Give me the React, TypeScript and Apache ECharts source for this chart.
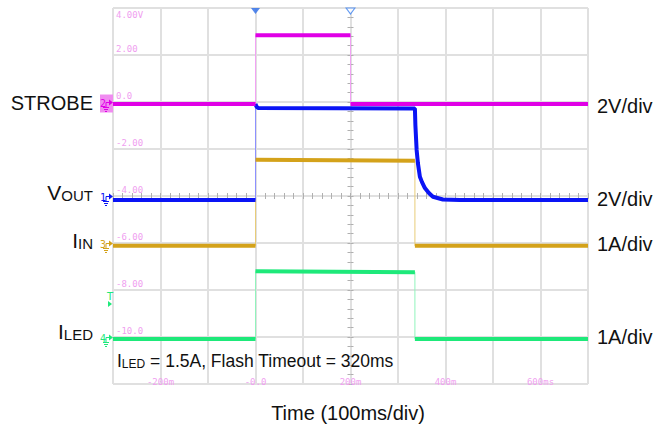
import React, { useEffect, useRef } from 'react';
import * as echarts from 'echarts';

// ---- axis configuration (divisions / tick labels) ----
const timeMin = -300;
const timeMax = 700;
const timeStep = 100;
const xLabelValues = [-200, 0, 200, 400, 600];
const xLabelTexts = ['-200m', '-0.0', '200m', '400m', '600ms'];
const yLabelValues = [4, 2, 0, -2, -4, -6, -8, -10];
const yLabelTexts = ['4.00V', '2.00', '0.0', '-2.00', '-4.00', '-6.00', '-8.00', '-10.0'];

// channel scales: STROBE (2V/div), VOUT (2V/div), IIN (1A/div), ILED (1A/div)
const channelNames = ['STROBE', 'VOUT', 'IIN', 'ILED'];
const channelMin = [-12, -8, -3, -1];
const channelMax = [4, 8, 5, 7];
const channelScaleText = ['2V/div', '2V/div', '1A/div', '1A/div'];
const channelDigit = ['2', '1', '3', '4'];

// ---- waveforms (time in ms) ----
const strobeTime = [-300, 0, 0, 200, 200, 700];
const strobeVolt = [-0.08, -0.08, 2.84, 2.84, -0.08, -0.08];

const voutTime = [-300, 0, 0, 2, 6, 335.6, 336.6, 339.2, 341.9, 346.1, 350.3, 356.6, 365, 373.5, 394.6, 430, 700];
const voutVolt = [-0.17, -0.17, 3.92, 3.8, 3.74, 3.72, 3.02, 1.96, 1.4, 0.82, 0.6, 0.34, 0.13, -0.03, -0.15, -0.17, -0.17];

const iinTime = [-300, 0, 0, 335.6, 335.6, 700];
const iinAmp = [-0.06, -0.06, 1.77, 1.75, -0.06, -0.06];

const iledTime = [-300, 0, 0, 335.6, 335.6, 700];
const iledAmp = [-0.04, -0.04, 1.4, 1.38, -0.04, -0.04];

const trigLevelA = 0.7;
const markerTimes = [0, 200];

const annotation = { sub: 'LED', rest: ' = 1.5A, Flash Timeout = 320ms' };
const xTitle = 'Time (100ms/div)';

const traceColors = ['#E000E6', '#0A14F5', '#D4A21A', '#1EE97A'];
const edgeColors = ['#F2A2F4', '#8C90FF', '#E8CC78', '#90F4BC'];
const traceWidths = [4, 4, 4, 4];

const pinkLabel = '#F0A0F0';
const FONT = '"Liberation Sans", Arial, sans-serif';
const MONO = '"DejaVu Sans Mono", monospace';

function stepData(t: number[], v: number[]) {
  return t.map((x, i) => [x, v[i]]);
}
function thickData(t: number[], v: number[]) {
  const out: any[] = [];
  for (let i = 0; i < t.length; i++) {
    if (i > 0 && t[i] === t[i - 1]) out.push([t[i], '-']);
    out.push([t[i], v[i]]);
  }
  return out;
}

export default function App() {
  const ref = useRef<HTMLDivElement>(null);
  useEffect(() => {
    if (!ref.current) return;
    const chart = echarts.init(ref.current, null, { renderer: 'svg' });
    const waves = [
      [strobeTime, strobeVolt],
      [voutTime, voutVolt],
      [iinTime, iinAmp],
      [iledTime, iledAmp],
    ];
    const drawOrder = [3, 2, 1, 0];
    const series: any[] = [];
    drawOrder.forEach((k) => {
      series.push({
        type: 'line', xAxisIndex: 0, yAxisIndex: k, silent: true, symbol: 'none',
        data: stepData(waves[k][0], waves[k][1]),
        lineStyle: { width: 1, color: edgeColors[k] }, z: 2,
      });
    });
    drawOrder.forEach((k, j) => {
      series.push({
        type: 'line', xAxisIndex: 0, yAxisIndex: k, silent: true, symbol: 'none',
        data: thickData(waves[k][0], waves[k][1]),
        connectNulls: false,
        lineStyle: { width: traceWidths[k], color: traceColors[k] }, z: 3 + j,
      });
    });
    series.push({
      type: 'scatter', xAxisIndex: 0, yAxisIndex: 0, silent: true, clip: false,
      data: [[markerTimes[0], channelMax[0]]],
      symbol: 'triangle', symbolRotate: 180, symbolSize: [9, 6], symbolOffset: [0, 3],
      itemStyle: { color: '#2A6CE8' }, z: 10,
    });
    series.push({
      type: 'scatter', xAxisIndex: 0, yAxisIndex: 0, silent: true, clip: false,
      data: [[markerTimes[1], channelMax[0]]],
      symbol: 'triangle', symbolRotate: 180, symbolSize: [9, 6], symbolOffset: [0, 3],
      itemStyle: { color: '#ffffff', borderColor: '#3C82F0', borderWidth: 1 }, z: 10,
    });

    const tickAxisBase = (inside: boolean) => ({
      type: 'value', min: -5, max: 5, interval: 1,
      axisLine: { show: false, onZero: true, onZeroAxisIndex: 4 },
      axisTick: { show: true, inside, length: 3, lineStyle: { color: '#b0b0b0' } },
      minorTick: { show: true, splitNumber: 5, length: 3, lineStyle: { color: '#b0b0b0' } },
      axisLabel: { show: false }, splitLine: { show: false },
    });
    const yTickAxisBase = (inside: boolean) => ({
      type: 'value', min: -4, max: 4, interval: 1,
      axisLine: { show: false, onZero: true, onZeroAxisIndex: 1 },
      axisTick: { show: true, inside, length: 3, lineStyle: { color: '#b0b0b0' } },
      minorTick: { show: true, splitNumber: 5, length: 3, lineStyle: { color: '#b0b0b0' } },
      axisLabel: { show: false }, splitLine: { show: false },
    });

    const option: any = {
      animation: false,
      backgroundColor: '#ffffff',
      grid: {
        left: 113, right: 72, top: 8, bottom: 48,
        show: true, borderColor: '#4a4a4a', borderWidth: 1, backgroundColor: '#ffffff',
        outerBoundsMode: 'none',
      },
      xAxis: [
        {
          type: 'value', min: timeMin, max: timeMax, interval: timeStep,
          axisLine: { show: false, onZero: false },
          axisTick: { show: false },
          splitLine: { show: true, lineStyle: { color: '#e0e0e0', width: 2 } },
          axisLabel: {
            inside: true, margin: -2, color: pinkLabel, fontFamily: MONO, fontSize: 9,
            formatter: (v: number) => {
              const i = xLabelValues.indexOf(v);
              return i < 0 ? '' : xLabelTexts[i];
            },
          },
        },
        tickAxisBase(false),
        tickAxisBase(true),
      ],
      yAxis: [
        {
          type: 'value', min: channelMin[0], max: channelMax[0], interval: 2,
          axisLine: { show: false, onZero: false },
          axisTick: { show: false },
          splitLine: { show: true, lineStyle: { color: '#e0e0e0', width: 2 } },
          axisLabel: {
            inside: true, margin: 3, color: pinkLabel, fontFamily: MONO, fontSize: 9,
            formatter: (v: number) => {
              const i = yLabelValues.indexOf(v);
              if (i < 0) return '';
              return i === 0 ? `{t|${yLabelTexts[i]}}` : `{b|${yLabelTexts[i]}}`;
            },
            rich: {
              t: { color: pinkLabel, fontFamily: MONO, fontSize: 9, padding: [13, 0, 0, 0] },
              b: { color: pinkLabel, fontFamily: MONO, fontSize: 9, padding: [0, 0, 13, 0] },
            },
          },
        },
        ...[1, 2, 3].map((k) => ({
          type: 'value', min: channelMin[k], max: channelMax[k], show: false,
          axisLine: { show: false, onZero: false }, splitLine: { show: false },
        })),
        yTickAxisBase(false),
        yTickAxisBase(true),
      ],
      series,
    };
    chart.setOption(option);

    const yOf = (axis: number, val: number) => chart.convertToPixel({ yAxisIndex: axis } as any, val) as number;

    const graphics: any[] = [];
    // channel ground markers
    for (let k = 0; k < 4; k++) {
      const y0 = Math.round(yOf(k, 0)) + 0.5;
      const c = traceColors[k];
      if (k === 0) {
        graphics.push({ type: 'rect', shape: { x: 100, y: y0 - 8, width: 13, height: 18 }, style: { fill: '#F08CF0' }, z: 20 });
      }
      graphics.push({ type: 'text', x: 103, y: y0 + 1, style: { text: channelDigit[k], fill: c, font: `10px ${MONO}`, align: 'center', verticalAlign: 'middle' }, z: 21 });
      graphics.push({ type: 'polyline', shape: { points: [[106, y0 + 5], [106, y0], [109, y0]] }, style: { stroke: c, lineWidth: 1, fill: 'none' }, z: 21 });
      graphics.push({ type: 'polygon', shape: { points: [[109, y0 - 3], [113, y0], [109, y0 + 3]] }, style: { fill: c }, z: 21 });
      graphics.push({ type: 'line', shape: { x1: 103, y1: y0 + 5, x2: 109, y2: y0 + 5 }, style: { stroke: c, lineWidth: 1 }, z: 21 });
      graphics.push({ type: 'line', shape: { x1: 104, y1: y0 + 7, x2: 108, y2: y0 + 7 }, style: { stroke: c, lineWidth: 1 }, z: 21 });
      graphics.push({ type: 'line', shape: { x1: 105, y1: y0 + 9, x2: 107, y2: y0 + 9 }, style: { stroke: c, lineWidth: 1 }, z: 21 });
    }
    // trigger level marker
    const yT = yOf(3, trigLevelA);
    graphics.push({ type: 'text', x: 110, y: yT - 8, style: { text: 'T', fill: traceColors[3], font: `11px ${MONO}`, align: 'center', verticalAlign: 'middle' }, z: 21 });
    graphics.push({ type: 'polygon', shape: { points: [[108, yT - 3], [112, yT], [108, yT + 3]] }, style: { fill: traceColors[3] }, z: 21 });

    // left channel labels
    const yS = yOf(0, 0);
    graphics.push({ type: 'text', x: 93, y: yS + 1, style: { text: 'STROBE', fill: '#111', font: `20px ${FONT}`, align: 'right', verticalAlign: 'middle' } });
    const subLabel = (main: string, sub: string, yBase: number) => ({
      type: 'text', x: 93, y: yBase,
      style: {
        text: `{m|${main}}{s|${sub}}`, align: 'right', verticalAlign: 'bottom', fill: '#111',
        rich: {
          m: { fontSize: 21, fontFamily: FONT, lineHeight: 21, verticalAlign: 'bottom', fill: '#111' },
          s: { fontSize: 15, fontFamily: FONT, lineHeight: 15, verticalAlign: 'bottom', fill: '#111' },
        },
      },
    });
    graphics.push(subLabel('V', 'OUT', yOf(1, 0) + 7));
    graphics.push(subLabel('I', 'IN', yOf(2, 0) + 8));
    graphics.push(subLabel('I', 'LED', yOf(3, 0) + 5));

    // right scale labels
    const rightY = [yOf(0, 0) + 4, yOf(1, 0) + 3, yOf(2, 0) + 1, yOf(3, 0) + 0];
    for (let k = 0; k < 4; k++) {
      graphics.push({ type: 'text', x: 597, y: rightY[k], style: { text: channelScaleText[k], fill: '#111', font: `20px ${FONT}`, align: 'left', verticalAlign: 'middle' } });
    }

    // annotation inside plot
    graphics.push({
      type: 'text', x: 117, y: 370,
      style: {
        text: `{m|I}{s|${annotation.sub}}{m|${annotation.rest}}`, align: 'left', verticalAlign: 'bottom', fill: '#111',
        rich: {
          m: { fontSize: 17.5, fontFamily: FONT, lineHeight: 18, verticalAlign: 'bottom', fill: '#111' },
          s: { fontSize: 12, fontFamily: FONT, lineHeight: 12, verticalAlign: 'bottom', fill: '#111' },
        },
      },
      z: 30,
    });
    // x title
    graphics.push({ type: 'text', x: 348, y: 413, style: { text: xTitle, fill: '#111', font: `20px ${FONT}`, align: 'center', verticalAlign: 'middle' } });

    chart.setOption({ graphic: { elements: graphics } });

    return () => chart.dispose();
  }, []);

  return (
    <div
      ref={ref}
      style={{ position: 'absolute', left: 0, top: 0, width: 660, height: 432, background: '#fff' }}
    />
  );
}
